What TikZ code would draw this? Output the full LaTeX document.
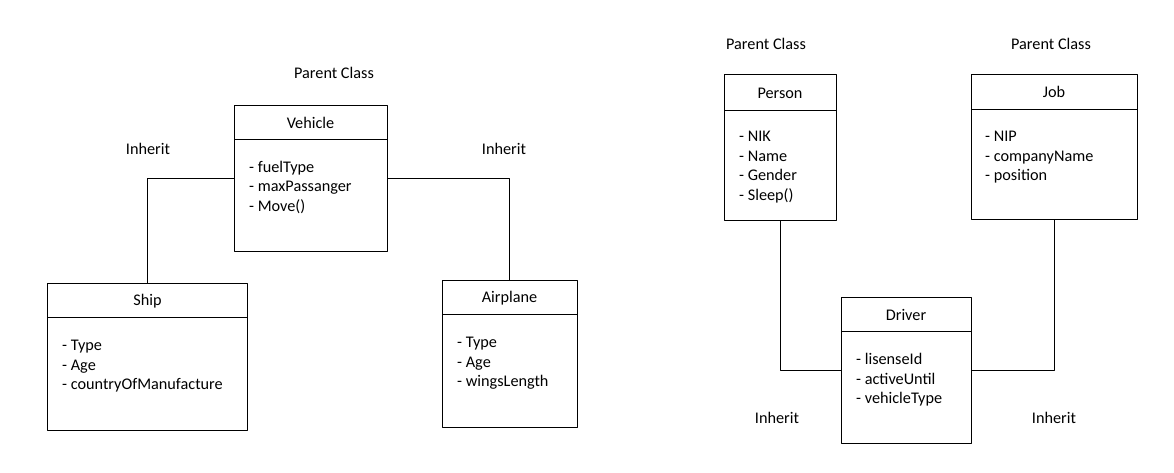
\documentclass[tikz,border=0pt]{standalone}
\usepackage{fontspec}
\setmainfont{Carlito}
\begin{document}
\begin{tikzpicture}[x=1bp,y=-1bp,line join=bevel,
  classbox/.style={draw,line width=1bp,inner sep=0pt},
  classname/.style={inner sep=0pt,font=\fontsize{16.3}{19.5}\selectfont},
  members/.style={anchor=north west,align=left,inner sep=0pt,font=\fontsize{16.3}{19.6}\selectfont},
  note/.style={inner sep=0pt,font=\fontsize{16.3}{19.5}\selectfont},
  link/.style={draw,line width=1bp}]
  \useasboundingbox (0,0) rectangle (1174,473);
%%
  % Node: Vehicle
  \node[classbox,minimum width=153bp,minimum height=146bp] (vehicle) at (310.5,179) {};
  \node[classname] (vehicletitle) at (310.5,123) {Vehicle};
  \draw[line width=1bp] (234,140) -- (387,140);
  \node[members] (vehicleattr) at (249,161) {- fuelType\\- maxPassanger\\- Move()};
  % Node: Ship
  \node[classbox,minimum width=199bp,minimum height=146bp] (ship) at (147.5,357) {};
  \node[classname] (shiptitle) at (147.5,301) {Ship};
  \draw[line width=1bp] (48,318) -- (247,318);
  \node[members] (shipattr) at (62,340) {- Type\\- Age\\- countryOfManufacture};
  % Node: Airplane
  \node[classbox,minimum width=135bp,minimum height=146bp] (airplane) at (509.5,354) {};
  \node[classname] (airplanetitle) at (509.5,298) {Airplane};
  \draw[line width=1bp] (442,315) -- (577,315);
  \node[members] (airplaneattr) at (457,337) {- Type\\- Age\\- wingsLength};
  % Node: Person
  \node[classbox,minimum width=112bp,minimum height=146bp] (person) at (780,148) {};
  \node[classname] (persontitle) at (780,93) {Person};
  \draw[line width=1bp] (724,111) -- (836,111);
  \node[members] (personattr) at (739,131) {- NIK\\- Name\\- Gender\\- Sleep()};
  % Node: Job
  \node[classbox,minimum width=166bp,minimum height=145bp] (job) at (1054,147.5) {};
  \node[classname] (jobtitle) at (1054,92) {Job};
  \draw[line width=1bp] (971,110) -- (1137,110);
  \node[members] (jobattr) at (985,131) {- NIP\\- companyName\\- position};
  % Node: Driver
  \node[classbox,minimum width=130bp,minimum height=145bp] (driver) at (906,370.5) {};
  \node[classname] (drivertitle) at (906,315) {Driver};
  \draw[line width=1bp] (841,332) -- (971,332);
  \node[members] (driverattr) at (856,353) {- lisenseId\\- activeUntil\\- vehicleType};
%%
  % Edge: Vehicle -> Ship
  \draw[link] (vehicle.west) -| (ship.north);
  % Edge: Vehicle -> Airplane
  \draw[link] (vehicle.east) -| (airplane.north);
  % Edge: Person -> Driver
  \draw[link] (person.south) |- (driver.west);
  % Edge: Job -> Driver
  \draw[link] (job.south) |- (driver.east);
%%
  \node[note] (vehicleparent) at (334,73) {Parent Class};
  \node[note] (shipinherit) at (148,149) {Inherit};
  \node[note] (airplaneinherit) at (504,149) {Inherit};
  \node[note] (personparent) at (766,44) {Parent Class};
  \node[note] (jobparent) at (1051,44) {Parent Class};
  \node[note] (personinherit) at (777,418) {Inherit};
  \node[note] (jobinherit) at (1054,418) {Inherit};
%
\end{tikzpicture}
\end{document}
